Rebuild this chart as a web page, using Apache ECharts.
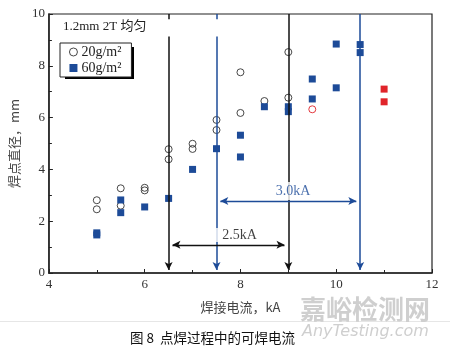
<!DOCTYPE html>
<html>
<head>
<meta charset="utf-8">
<script src="https://cdn.jsdelivr.net/npm/echarts@6/dist/echarts.min.js"></script>
<style>html,body{margin:0;padding:0;background:#fff}#c{width:450px;height:351px}</style>
</head>
<body>
<div id="c"></div>
<script>
// ---- data ----
const current20 = [5.0, 5.0, 5.5, 5.5, 6.0, 6.0, 6.5, 6.5, 7.0, 7.0, 7.5, 7.5, 8.0, 8.0, 8.5, 9.0, 9.0];
const diameter20 = [2.81, 2.46, 3.27, 2.60, 3.29, 3.19, 4.78, 4.39, 4.99, 4.79, 5.91, 5.52, 7.75, 6.18, 6.64, 8.53, 6.77];
const current60 = [5.0, 5.0, 5.5, 5.5, 6.0, 6.5, 7.0, 7.5, 8.0, 8.0, 8.5, 9.0, 9.0, 9.5, 9.5, 10.0, 10.0, 10.5, 10.5];
const diameter60 = [1.47, 1.55, 2.82, 2.33, 2.55, 2.88, 4.00, 4.80, 5.32, 4.48, 6.42, 6.42, 6.23, 7.49, 6.72, 8.84, 7.15, 8.82, 8.51];
const expulsionCurrentSq = [11.0, 11.0];
const expulsionDiameterSq = [7.10, 6.61];
const expulsionCurrentCi = [9.5];
const expulsionDiameterCi = [6.32];
const minDiameter = 4.38;
const window20 = [6.5, 9.0];   // 2.5kA
const window60 = [7.5, 10.5];  // 3.0kA
const xTicks = [4, 6, 8, 10, 12];
const yTicks = [0, 2, 4, 6, 8, 10];
const legendNames = ['20g/m²', '60g/m²'];

const zip = (a, b) => a.map((v, i) => [v, b[i]]);
const BLUE = '#1d4b98', RED = '#e0242a';
const SERIF = '"Liberation Serif","Noto Sans CJK SC",serif';
const CJK = '"Noto Sans CJK SC",sans-serif';

const chart = echarts.init(document.getElementById('c'), null, {renderer: 'canvas'});
const lineStyleK = {color: '#111', width: 1.5, type: 'solid'};
const lineStyleB = {color: BLUE, width: 1.5, type: 'solid'};
const seg = (x1, y1, x2, y2, ls, sym) => [{coord: [x1, y1], symbol: sym[0], lineStyle: ls}, {coord: [x2, y2], symbol: sym[1]}];

chart.setOption({
  animation: false,
  grid: {left: 46, right: 18, top: 14, bottom: 78, show: true, borderColor: '#222', borderWidth: 1.2, backgroundColor: 'transparent'},
  legend: {
    data: legendNames, orient: 'vertical', left: 60, top: 43, z: 12,
    itemWidth: 8, itemHeight: 8, itemGap: 2, padding: [2, 10, 2, 9],
    backgroundColor: '#fff', borderColor: '#222', borderWidth: 1,
    itemStyle: {borderWidth: 0.9},
    textStyle: {fontFamily: SERIF, fontSize: 14, color: '#222', padding: [0, 0, 0, -1]},
    selectedMode: false
  },
  xAxis: {
    type: 'value', min: xTicks[0], max: xTicks[xTicks.length - 1], interval: 2,
    name: '焊接电流，kA', nameLocation: 'middle', nameGap: 28,
    nameTextStyle: {fontFamily: CJK, fontSize: 13, color: '#444'},
    axisLine: {lineStyle: {color: '#222', width: 1.5}},
    axisTick: {inside: true, length: 4, lineStyle: {color: '#222'}},
    minorTick: {show: true, splitNumber: 2, length: 3, lineStyle: {color: '#222'}},
    splitLine: {show: false},
    axisLabel: {fontFamily: SERIF, fontSize: 13, color: '#333', margin: 5}
  },
  yAxis: {
    type: 'value', min: yTicks[0], max: yTicks[yTicks.length - 1], interval: 2,
    name: '焊点直径，mm', nameLocation: 'middle', nameGap: 27, nameRotate: 90,
    nameTextStyle: {fontFamily: CJK, fontSize: 13, color: '#444'},
    axisLine: {lineStyle: {color: '#222', width: 1.5}},
    axisTick: {inside: true, length: 4, lineStyle: {color: '#222'}},
    minorTick: {show: true, splitNumber: 2, length: 3, lineStyle: {color: '#222'}},
    splitLine: {show: false},
    axisLabel: {fontFamily: SERIF, fontSize: 13, color: '#333', margin: 4}
  },
  series: [
    {
      name: 'guides', type: 'scatter', data: [], z: 1, silent: true,
      markLine: {
        silent: true, animation: false, label: {show: false}, emphasis: {disabled: true},
        symbolSize: [6, 8],
        data: [
          [{yAxis: minDiameter, symbol: 'none', lineStyle: {color: '#888', width: 1, type: 'solid'}}, {x: 432, yAxis: minDiameter, symbol: 'none'}],
          seg(window20[0], 10, window20[0], 9.8, lineStyleK, ['none', 'none']),
          seg(window20[0], 9.13, window20[0], 0.12, lineStyleK, ['none', 'arrow']),
          seg(window60[0], 10, window60[0], 9.8, lineStyleB, ['none', 'none']),
          seg(window60[0], 9.13, window60[0], 0.12, lineStyleB, ['none', 'arrow']),
          seg(window20[1], 10, window20[1], 0.12, lineStyleK, ['none', 'arrow']),
          seg(window60[1], 10, window60[1], 0.12, lineStyleB, ['none', 'arrow']),
          seg(window20[0] + 0.08, 1.09, window20[1] - 0.08, 1.09, {color: '#111', width: 1.3, type: 'solid'}, ['arrow', 'arrow']),
          seg(window60[0] + 0.08, 2.78, window60[1] - 0.08, 2.78, {color: BLUE, width: 1.3, type: 'solid'}, ['arrow', 'arrow'])
        ]
      }
    },
    {
      name: legendNames[0], type: 'scatter', z: 3, symbol: 'circle', symbolSize: 7,
      itemStyle: {color: 'rgba(255,255,255,0)', borderColor: '#333', borderWidth: 0.9, opacity: 1},
      data: zip(current20, diameter20)
    },
    {
      name: legendNames[1], type: 'scatter', z: 4, symbol: 'rect', symbolSize: 7,
      itemStyle: {color: BLUE, opacity: 1},
      data: zip(current60, diameter60)
    },
    {
      name: 'expulsion60', type: 'scatter', z: 4, symbol: 'rect', symbolSize: 7,
      itemStyle: {color: RED, opacity: 1},
      data: zip(expulsionCurrentSq, expulsionDiameterSq)
    },
    {
      name: 'expulsion20', type: 'scatter', z: 4, symbol: 'circle', symbolSize: 7,
      itemStyle: {color: 'rgba(255,255,255,0)', borderColor: RED, borderWidth: 0.9, opacity: 1},
      data: zip(expulsionCurrentCi, expulsionDiameterCi)
    },
    {
      name: 'labels', type: 'scatter', z: 6, silent: true, symbolSize: 0,
      data: [
        {value: [9.1, 3.17], label: {formatter: '3.0kA', color: BLUE, padding: [3, 2, 1, 2]}},
        {value: [7.98, 1.47], label: {formatter: '2.5kA', color: '#111', padding: [0, 10, 0, 10]}}
      ],
      label: {show: true, position: 'inside', fontFamily: SERIF, fontSize: 14, backgroundColor: '#fff'}
    }
  ],
  graphic: [
    {type: 'rect', left: 65, top: 47, z: 5, shape: {width: 69, height: 32}, style: {fill: '#000'}},
    {type: 'text', left: 63, top: 20, z: 10, style: {text: '1.2mm 2T 均匀', font: '13px ' + SERIF, fill: '#222'}},
    {type: 'rect', left: 0, top: 321, z: 0, shape: {width: 450, height: 1}, style: {fill: '#e6e6e6'}},
    {type: 'text', left: 300, top: 296, z: 1, style: {text: '嘉峪检测网', font: 'bold 26px ' + CJK, fill: '#cfcfcf'}},
    {type: 'text', left: 302, top: 324, z: 1, style: {text: 'AnyTesting.com', font: 'italic 16px "DejaVu Sans",sans-serif', fill: '#cfcfcf'}},
    {type: 'text', left: 130, top: 331, z: 10, style: {text: '图 8  点焊过程中的可焊电流', font: '13.5px ' + CJK, fill: '#111'}}
  ]
});
</script>
</body>
</html>
